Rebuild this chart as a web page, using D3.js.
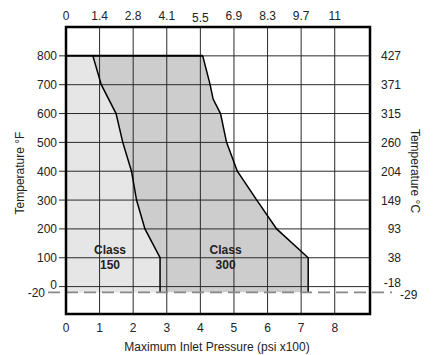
<!DOCTYPE html>
<html>
<head>
<meta charset="utf-8">
<script src="https://cdn.jsdelivr.net/npm/d3@7/dist/d3.min.js"></script>
<style>
  html, body { margin: 0; padding: 0; background: #fff; }
  svg text { font-family: "Liberation Sans", Arial, sans-serif; fill: #222; }
</style>
</head>
<body>
<svg id="chart" width="435" height="355"></svg>
<script>
// Pressure in units of 100 psi, temperature in °F
const class150Temp = [800, 700, 600, 500, 400, 300, 200, 100, -20];
const class150Pressure = [0.8, 1.05, 1.49, 1.69, 1.95, 2.1, 2.35, 2.8, 2.8];
const class300Temp = [800, 700, 650, 600, 500, 400, 300, 200, 100, -20];
const class300Pressure = [4.07, 4.29, 4.38, 4.6, 4.78, 5.1, 5.68, 6.27, 7.21, 7.21];

const bottomTicks = [0, 1, 2, 3, 4, 5, 6, 7, 8];
const topTickLabels = ["0", "1.4", "2.8", "4.1", "5.5", "6.9", "8.3", "9.7", "11"];
const leftTicks = [800, 700, 600, 500, 400, 300, 200, 100, 0];
const rightTickLabels = ["427", "371", "315", "260", "204", "149", "93", "38", "-18"];
const minTempF = -20;
const minTempC = "-29";

const svg = d3.select("#chart");
const x = d3.scaleLinear().domain([0, 9.05]).range([66, 370]);
const y = d3.scaleLinear().domain([-95, 900]).range([314, 27]);

const toPts = (ps, ts) => ps.map((p, i) => [p, ts[i]]);
const c150 = toPts(class150Pressure, class150Temp);
const c300 = toPts(class300Pressure, class300Temp);

const area = d3.line().x(d => x(d[0])).y(d => y(d[1]));

// Shaded regions: class 300 envelope, then class 150 over it
svg.append("path")
  .attr("d", area([[0, 800], ...c300, [0, minTempF]]) + "Z")
  .attr("fill", "#cdcdcd");
svg.append("path")
  .attr("d", area([[0, 800], ...c150, [0, minTempF]]) + "Z")
  .attr("fill", "#e6e6e6");

// Grid
const g = svg.append("g").attr("stroke", "#2a2a2a").attr("stroke-width", 1);
bottomTicks.slice(1).forEach(v => {
  g.append("line").attr("x1", x(v)).attr("x2", x(v))
    .attr("y1", y.range()[1]).attr("y2", y.range()[0]);
});
leftTicks.forEach(v => {
  g.append("line").attr("x1", x(0) - 7).attr("x2", x.range()[1])
    .attr("y1", y(v)).attr("y2", y(v));
});

// Rating curves
const curve = d3.line().x(d => x(d[0])).y(d => y(d[1]));
svg.append("path").attr("d", curve(c150))
  .attr("fill", "none").attr("stroke", "#000").attr("stroke-width", 1.5);
svg.append("path").attr("d", curve(c300))
  .attr("fill", "none").attr("stroke", "#000").attr("stroke-width", 1.5);
svg.append("line")
  .attr("x1", x(0)).attr("x2", x(class300Pressure[0]))
  .attr("y1", y(800)).attr("y2", y(800))
  .attr("stroke", "#000").attr("stroke-width", 2);

// Minimum temperature line
svg.append("line")
  .attr("x1", 48).attr("x2", 392)
  .attr("y1", y(minTempF)).attr("y2", y(minTempF))
  .attr("stroke", "#888").attr("stroke-width", 1.6)
  .attr("stroke-dasharray", "12,6");

// Frame
svg.append("rect")
  .attr("x", x.range()[0]).attr("y", y.range()[1])
  .attr("width", x.range()[1] - x.range()[0])
  .attr("height", y.range()[0] - y.range()[1])
  .attr("fill", "none").attr("stroke", "#000").attr("stroke-width", 2.5);

// Tick labels
const fs = "12px";
bottomTicks.forEach((v, i) => {
  svg.append("text").attr("x", x(v)).attr("y", 331.5)
    .attr("text-anchor", "middle").style("font-size", fs).text(v);
  svg.append("text").attr("x", x(v)).attr("y", v === 4 ? 22 : 20)
    .attr("text-anchor", "middle").style("font-size", fs).text(topTickLabels[i]);
});
leftTicks.forEach((v, i) => {
  svg.append("text").attr("x", 57).attr("y", v === 0 ? y(v) + 2 : y(v) + 4.5)
    .attr("text-anchor", "end").style("font-size", fs).text(v);
  svg.append("text").attr("x", 401).attr("y", v === 0 ? y(v) + 0.5 : y(v) + 4.5)
    .attr("text-anchor", "end").style("font-size", fs).text(rightTickLabels[i]);
});
svg.append("text").attr("x", 45).attr("y", y(minTempF) + 5)
  .attr("text-anchor", "end").style("font-size", fs).text(minTempF);
svg.append("text").attr("x", 400).attr("y", y(minTempF) + 7)
  .attr("text-anchor", "start").style("font-size", fs).text(minTempC);

// Axis titles
svg.append("text").attr("x", 217).attr("y", 351)
  .attr("text-anchor", "middle").style("font-size", fs)
  .text("Maximum Inlet Pressure (psi x100)");
svg.append("text").attr("transform", "translate(24,173) rotate(-90)")
  .attr("text-anchor", "middle").style("font-size", fs)
  .text("Temperature °F");
svg.append("text").attr("transform", "translate(411,171) rotate(90)")
  .attr("text-anchor", "middle").style("font-size", fs)
  .text("Temperature °C");

// Region labels
const classLabels = [
  { name: "Class", rating: "150", p: 1.31 },
  { name: "Class", rating: "300", p: 4.75 }
];
classLabels.forEach(c => {
  svg.append("text").attr("x", x(c.p)).attr("y", 253.5)
    .attr("text-anchor", "middle").style("font-size", fs).style("font-weight", "bold")
    .text(c.name);
  svg.append("text").attr("x", x(c.p)).attr("y", 268.5)
    .attr("text-anchor", "middle").style("font-size", fs).style("font-weight", "bold")
    .text(c.rating);
});
</script>
</body>
</html>
